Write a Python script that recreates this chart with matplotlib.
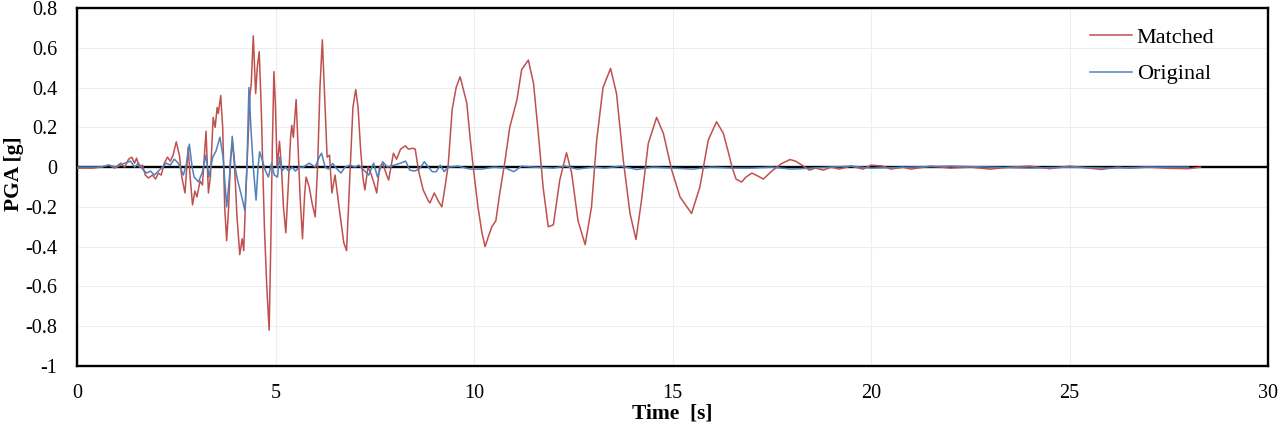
import matplotlib
matplotlib.use("Agg")
import matplotlib.pyplot as plt

# ---- data ----
matched_t = [0.0, 0.4, 0.6, 0.8, 0.95, 1.1, 1.2, 1.3, 1.38, 1.45, 1.5, 1.57, 1.65, 1.72, 1.8, 1.9, 1.98,
             2.05, 2.12, 2.2, 2.28, 2.35, 2.42, 2.5, 2.58, 2.64, 2.72, 2.8, 2.85, 2.91, 2.97, 3.02, 3.1,
             3.16, 3.25, 3.31, 3.36, 3.43, 3.48, 3.53, 3.56, 3.62, 3.67, 3.72, 3.77, 3.82, 3.87, 3.92,
             3.97, 4.03, 4.1, 4.13, 4.16, 4.2, 4.24, 4.3, 4.36, 4.39, 4.44, 4.5, 4.54, 4.59, 4.64, 4.68,
             4.72, 4.78, 4.84, 4.88, 4.92, 4.96, 5.0, 5.04, 5.1, 5.15, 5.2, 5.26, 5.32, 5.38, 5.41, 5.45,
             5.52, 5.57, 5.62, 5.68, 5.73, 5.77, 5.85, 5.92, 6.0, 6.06, 6.12, 6.18, 6.24, 6.3, 6.36, 6.42,
             6.5, 6.6, 6.72, 6.79, 6.86, 6.95, 7.02, 7.08, 7.14, 7.2, 7.25, 7.33, 7.4, 7.48, 7.55, 7.62,
             7.7, 7.8, 7.85, 7.97, 8.05, 8.15, 8.27, 8.35, 8.45, 8.52, 8.6, 8.72, 8.85, 8.89, 9.0, 9.1,
             9.19, 9.27, 9.35, 9.45, 9.55, 9.65, 9.72, 9.82, 9.9, 9.98, 10.1, 10.2, 10.28, 10.36, 10.45,
             10.55, 10.65, 10.78, 10.9, 11.08, 11.2, 11.37, 11.5, 11.62, 11.74, 11.87, 12.0, 12.16, 12.33,
             12.46, 12.62, 12.8, 12.96, 13.09, 13.25, 13.44, 13.59, 13.76, 13.93, 14.08, 14.22, 14.39,
             14.6, 14.77, 14.98, 15.19, 15.48, 15.69, 15.9, 16.11, 16.28, 16.4, 16.5, 16.6, 16.74, 16.85,
             17.0, 17.15, 17.29, 17.5, 17.75, 17.96, 18.1, 18.3, 18.45, 18.6, 18.8, 19.0, 19.2, 19.5,
             19.8, 20.0, 20.3, 20.5, 20.8, 21.0, 21.5, 22.0, 22.5, 23.0, 23.5, 24.0, 24.5, 25.0, 25.5,
             25.8, 26.2, 26.5, 27.0, 27.5, 28.0, 28.3]
matched_a = [-0.005, -0.005, 0.0, 0.01, -0.005, 0.02, 0.0, 0.04, 0.05, 0.02, 0.045, 0.0, 0.01, -0.04,
             -0.055, -0.04, -0.06, -0.03, -0.04, 0.02, 0.05, 0.03, 0.06, 0.127, 0.06, -0.05, -0.13, 0.10,
             -0.05, -0.19, -0.12, -0.15, -0.07, -0.09, 0.18, -0.13, -0.05, 0.25, 0.20, 0.30, 0.27, 0.36,
             0.2, -0.2, -0.37, -0.2, 0.05, 0.12, 0.0, -0.25, -0.44, -0.40, -0.36, -0.42, -0.2, 0.1, 0.37,
             0.42, 0.66, 0.37, 0.5, 0.58, 0.3, 0.0, -0.3, -0.6, -0.82, -0.4, 0.1, 0.48, 0.3, 0.0, 0.13,
             0.0, -0.2, -0.33, -0.1, 0.15, 0.21, 0.15, 0.34, 0.1, -0.15, -0.36, -0.15, -0.05, -0.1, -0.18,
             -0.25, 0.0, 0.4, 0.64, 0.35, 0.05, 0.06, -0.13, -0.04, -0.2, -0.38, -0.42, -0.1, 0.3, 0.39,
             0.3, 0.1, -0.05, -0.115, 0.0, -0.03, -0.08, -0.13, 0.0, 0.02, -0.04, -0.065, 0.07, 0.04,
             0.09, 0.107, 0.09, 0.095, 0.09, -0.015, -0.115, -0.17, -0.18, -0.13, -0.17, -0.2, -0.1,
             0.01, 0.29, 0.4, 0.454, 0.4, 0.32, 0.15, 0.0, -0.2, -0.33, -0.40, -0.35, -0.30, -0.27,
             -0.13, 0.03, 0.2, 0.337, 0.49, 0.538, 0.42, 0.17, -0.1, -0.30, -0.29, -0.065, 0.072, -0.03,
             -0.27, -0.39, -0.2, 0.135, 0.40, 0.496, 0.37, 0.035, -0.233, -0.364, -0.166, 0.119, 0.25,
             0.17, -0.015, -0.15, -0.233, -0.1, 0.136, 0.228, 0.17, 0.08, 0.0, -0.06, -0.075, -0.05,
             -0.03, -0.045, -0.06, -0.02, 0.018, 0.038, 0.03, 0.005, -0.015, -0.005, -0.015, 0.0, -0.01,
             0.005, -0.01, 0.01, 0.005, -0.01, 0.0, -0.01, 0.005, -0.005, 0.0, -0.01, 0.0, 0.005,
             -0.008, 0.005, -0.005, -0.012, 0.0, -0.005, 0.0, -0.006, -0.008, 0.0]

original_t = [0.0, 0.6, 0.8, 1.0, 1.2, 1.35, 1.45, 1.55, 1.65, 1.75, 1.85, 1.95, 2.05, 2.15, 2.25, 2.35,
              2.45, 2.55, 2.68, 2.76, 2.83, 2.9, 2.95, 3.06, 3.15, 3.25, 3.32, 3.42, 3.5, 3.6, 3.68,
              3.77, 3.84, 3.91, 3.98, 4.05, 4.15, 4.23, 4.28, 4.33, 4.38, 4.44, 4.51, 4.56, 4.6, 4.66,
              4.74, 4.82, 4.9, 4.97, 5.05, 5.1, 5.16, 5.25, 5.33, 5.42, 5.5, 5.6, 5.7, 5.85, 6.0, 6.1,
              6.16, 6.25, 6.33, 6.44, 6.55, 6.65, 6.75, 6.88, 7.0, 7.1, 7.2, 7.35, 7.47, 7.57, 7.7,
              7.82, 8.0, 8.15, 8.28, 8.38, 8.5, 8.62, 8.75, 8.85, 8.95, 9.05, 9.15, 9.25, 9.35, 9.6,
              9.9, 10.2, 10.5, 10.8, 11.0, 11.2, 11.5, 12.0, 12.3, 12.6, 13.0, 13.3, 13.7, 14.1, 14.5,
              15.0, 15.5, 16.0, 16.5, 17.0, 17.5, 18.0, 18.5, 19.0, 19.5, 20.0, 21.0, 22.0, 23.0, 24.0,
              25.0, 26.0, 27.0, 28.0]
original_a = [0.0, 0.0, 0.01, 0.0, 0.02, 0.03, 0.0, 0.02, -0.01, -0.03, -0.02, -0.04, -0.02, 0.0, 0.02,
              0.01, 0.04, 0.02, -0.04, 0.02, 0.115, 0.0, -0.05, -0.074, -0.03, 0.06, -0.05, 0.05, 0.08,
              0.15, 0.05, -0.2, -0.05, 0.155, 0.0, -0.07, -0.15, -0.22, 0.0, 0.40, 0.2, 0.0, -0.166, 0.0,
              0.077, 0.04, -0.015, -0.05, 0.02, -0.04, -0.05, 0.05, -0.02, 0.0, -0.02, 0.0, -0.02, 0.0,
              0.0, 0.02, 0.0, 0.05, 0.07, 0.0, -0.01, 0.018, -0.01, -0.03, 0.0, 0.01, 0.0, 0.01, -0.01,
              -0.04, 0.02, -0.05, 0.027, 0.0, 0.01, 0.02, 0.03, -0.015, -0.02, -0.01, 0.027, 0.0, -0.023,
              -0.023, 0.01, -0.023, 0.0, 0.005, -0.01, -0.01, 0.0, -0.005, -0.023, 0.005, 0.0, -0.005,
              0.005, -0.01, 0.0, -0.005, 0.005, -0.012, 0.0, -0.005, -0.01, 0.0, -0.005, -0.005, 0.0,
              -0.01, -0.005, 0.0, 0.005, -0.005, 0.0, 0.005, 0.0, -0.005, 0.0, -0.005, 0.0, 0.0]

x_ticks = [0, 5, 10, 15, 20, 25, 30]
y_ticks = [-1, -0.8, -0.6, -0.4, -0.2, 0, 0.2, 0.4, 0.6, 0.8]
y_tick_labels = ["-1", "-0.8", "-0.6", "-0.4", "-0.2", "0", "0.2", "0.4", "0.6", "0.8"]

plt.rcParams['font.family'] = ['Liberation Serif', 'DejaVu Serif']

fig = plt.figure(figsize=(12.8, 4.22), dpi=100)
ax = fig.add_axes([77 / 1280, 1 - 366 / 422, (1268 - 77) / 1280, (366 - 8) / 422])

ax.set_xlim(0, 30)
ax.set_ylim(-1, 0.8)
ax.set_xticks(x_ticks)
ax.set_xticklabels([str(v) for v in x_ticks])
ax.set_yticks(y_ticks)
ax.set_yticklabels(y_tick_labels)
ax.tick_params(axis='y', length=0, labelsize=14.5, pad=14)
ax.tick_params(axis='x', length=0, labelsize=14.5, pad=13)

ax.grid(True, color='#eeeeee', linewidth=0.8)
ax.set_axisbelow(True)

ax.axhline(0, color='black', linewidth=1.7, zorder=2)
ax.plot(matched_t, matched_a, color='#C0504D', linewidth=1.1, label='Matched', zorder=3)
ax.plot(original_t, original_a, color='#4F81BD', linewidth=1.1, label='Original', zorder=4)

for s in ax.spines.values():
    s.set_linewidth(1.7)
    s.set_color('black')

ax.set_ylabel('PGA [g]', fontsize=15.5, fontweight='bold')
ax.yaxis.label.set_va('center')
ax.yaxis.set_label_coords(-0.0525, 0.536)
ax.set_xlabel('Time  [s]', fontsize=15.5, fontweight='bold')
ax.xaxis.label.set_va('center')
ax.xaxis.set_label_coords(0.5, -0.132)

leg = ax.legend(loc='upper right', bbox_to_anchor=(0.968, 0.99), frameon=False, fontsize=16,
                handlelength=1.9, handletextpad=0.2, labelspacing=0.73, borderpad=0.2)

fig.savefig('out.png', dpi=100)
